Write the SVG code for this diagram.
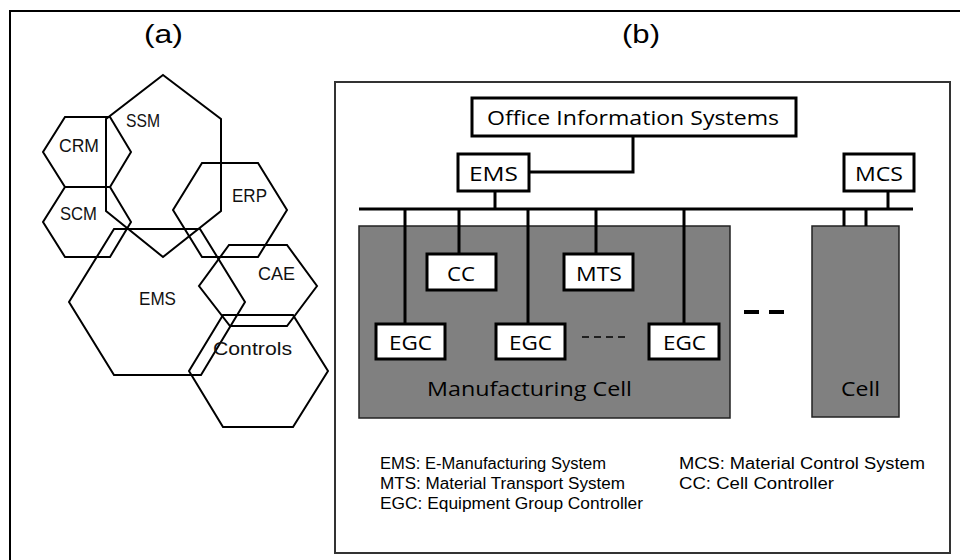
<svg xmlns="http://www.w3.org/2000/svg" width="960" height="560" viewBox="0 0 960 560">
<style>
.hex{fill:none;stroke:#000;stroke-width:2;stroke-linejoin:miter}
.hl{font-family:"Liberation Sans",Arial,sans-serif;font-size:19px;fill:#111}
.box{fill:#fff;stroke:#000;stroke-width:3}
.bl{font-family:"Open Sans","Liberation Sans",sans-serif;font-size:20px;fill:#000}
.cell{fill:#808080;stroke:#222;stroke-width:1.5}
.wire{stroke:#000;stroke-width:3;fill:none}
.leg{font-family:"Liberation Sans",Arial,sans-serif;font-size:16px;fill:#000}
.title{font-family:"Liberation Sans",Arial,sans-serif;font-size:26px;fill:#000}
</style>
<rect x="0" y="0" width="960" height="560" fill="#fff"/>
<path d="M10 560 V11 H960" fill="none" stroke="#000" stroke-width="2"/>
<text class="title" x="144" y="43" textLength="39" lengthAdjust="spacingAndGlyphs">(a)</text>
<text class="title" x="622" y="43" textLength="38" lengthAdjust="spacingAndGlyphs">(b)</text>

<g id="hex-ssm"><polygon class="hex" points="163,75 221,119 221,211 163,257 106,211 106,119"/><text class="hl" x="126" y="127" textLength="34" lengthAdjust="spacingAndGlyphs">SSM</text></g>
<g id="hex-crm"><polygon class="hex" points="65,117 110,117 131,152 110,187 65,187 43,152"/><text class="hl" x="59" y="152" textLength="40" lengthAdjust="spacingAndGlyphs">CRM</text></g>
<g id="hex-scm"><polygon class="hex" points="65,187 110,187 131,222 110,257 65,257 43,222"/><text class="hl" x="60" y="220" textLength="37" lengthAdjust="spacingAndGlyphs">SCM</text></g>
<g id="hex-erp"><polygon class="hex" points="202,163 258,163 287,210 258,257 202,257 173,210"/><text class="hl" x="232" y="202" textLength="35" lengthAdjust="spacingAndGlyphs">ERP</text></g>
<g id="hex-cae"><polygon class="hex" points="229,245 287,245 317,286 287,326 230,326 199,286"/><text class="hl" x="258" y="280" textLength="37" lengthAdjust="spacingAndGlyphs">CAE</text></g>
<g id="hex-ems"><polygon class="hex" points="114,229 200,229 245,302 201,375 114,375 69,302"/><text class="hl" x="139" y="305" textLength="37" lengthAdjust="spacingAndGlyphs">EMS</text></g>
<g id="hex-controls"><polygon class="hex" points="223,315 293,315 328,371 293,427 223,427 189,371"/><text class="hl" x="213" y="355" textLength="79" lengthAdjust="spacingAndGlyphs">Controls</text></g>

<g id="panel-b"><rect x="335" y="82" width="615" height="471" fill="none" stroke="#333" stroke-width="2"/></g>

<g id="mfg-cell"><rect class="cell" x="359" y="226" width="371" height="192"/><text class="bl" x="427" y="396" textLength="205" lengthAdjust="spacingAndGlyphs" fill="#1a1a1a">Manufacturing Cell</text></g>
<g id="cell"><rect class="cell" x="812" y="226" width="87" height="191"/><text class="bl" x="841" y="396" textLength="39" lengthAdjust="spacingAndGlyphs" fill="#1a1a1a">Cell</text></g>

<g id="connectors">
<path class="wire" d="M633 136 V172 H529"/>
<line class="wire" x1="495" y1="191" x2="495" y2="209"/>
<line class="wire" x1="359" y1="209" x2="913" y2="209"/>
<line class="wire" x1="888" y1="191" x2="888" y2="209"/>
<line class="wire" x1="844" y1="209" x2="844" y2="226"/>
<line class="wire" x1="866" y1="209" x2="866" y2="226"/>
<line class="wire" x1="405" y1="209" x2="405" y2="324"/>
<line class="wire" x1="459" y1="209" x2="459" y2="254"/>
<line class="wire" x1="528" y1="209" x2="528" y2="324"/>
<line class="wire" x1="596" y1="209" x2="596" y2="254"/>
<line class="wire" x1="684" y1="209" x2="684" y2="324"/>
<line x1="582" y1="337" x2="628" y2="337" stroke="#000" stroke-width="1.5" stroke-dasharray="7,5"/>
<line x1="744" y1="312" x2="785" y2="312" stroke="#000" stroke-width="4" stroke-dasharray="15,10"/>
</g>

<g id="office"><rect class="box" x="472" y="98" width="324" height="38"/><text class="bl" x="487" y="125" textLength="292" lengthAdjust="spacingAndGlyphs">Office Information Systems</text></g>
<g id="ems"><rect class="box" x="458" y="154" width="71" height="37"/><text class="bl" x="469" y="181" textLength="49" lengthAdjust="spacingAndGlyphs">EMS</text></g>
<g id="mcs"><rect class="box" x="844" y="154" width="70" height="37"/><text class="bl" x="855" y="181" textLength="48" lengthAdjust="spacingAndGlyphs">MCS</text></g>
<g id="cc"><rect class="box" x="427" y="254" width="69" height="36"/><text class="bl" x="447" y="281" textLength="28" lengthAdjust="spacingAndGlyphs">CC</text></g>
<g id="mts"><rect class="box" x="564" y="254" width="69" height="36"/><text class="bl" x="576" y="281" textLength="46" lengthAdjust="spacingAndGlyphs">MTS</text></g>
<g id="egc1"><rect class="box" x="376" y="324" width="69" height="35"/><text class="bl" x="389" y="350" textLength="43" lengthAdjust="spacingAndGlyphs">EGC</text></g>
<g id="egc2"><rect class="box" x="496" y="324" width="69" height="35"/><text class="bl" x="509" y="350" textLength="43" lengthAdjust="spacingAndGlyphs">EGC</text></g>
<g id="egc3"><rect class="box" x="649" y="324" width="70" height="35"/><text class="bl" x="663" y="350" textLength="43" lengthAdjust="spacingAndGlyphs">EGC</text></g>

<g id="legend">
<text class="leg" x="380" y="469" textLength="226" lengthAdjust="spacingAndGlyphs">EMS: E-Manufacturing System</text>
<text class="leg" x="380" y="489" textLength="245" lengthAdjust="spacingAndGlyphs">MTS: Material Transport System</text>
<text class="leg" x="380" y="509" textLength="263" lengthAdjust="spacingAndGlyphs">EGC: Equipment Group Controller</text>
<text class="leg" x="679" y="469" textLength="246" lengthAdjust="spacingAndGlyphs">MCS: Material Control System</text>
<text class="leg" x="679" y="489" textLength="155" lengthAdjust="spacingAndGlyphs">CC: Cell Controller</text>
</g>
</svg>
